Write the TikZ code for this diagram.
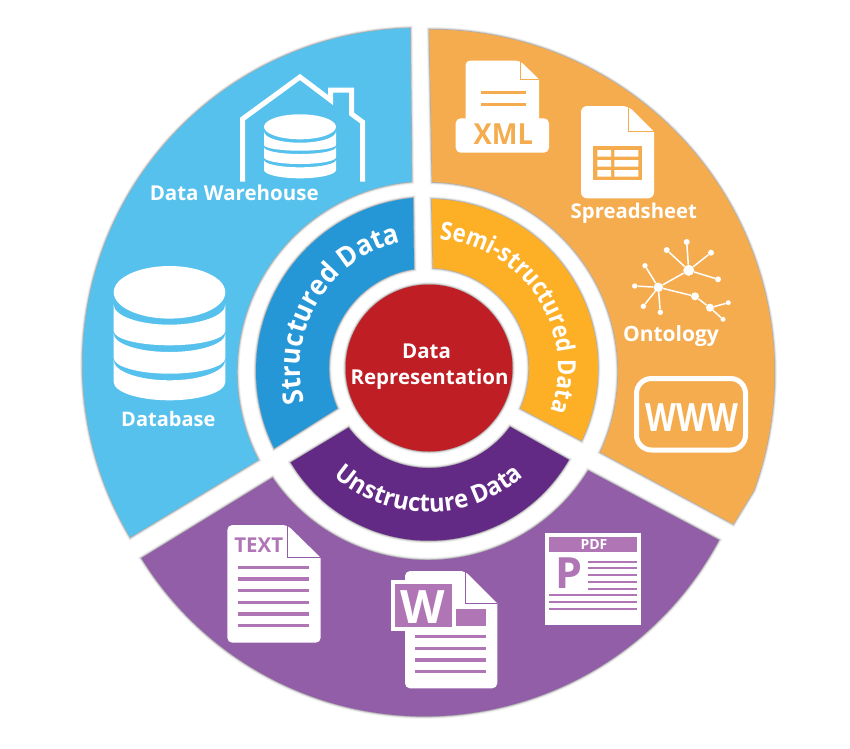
\documentclass[tikz,border=0pt]{standalone}
\usepackage{fontspec}
\usepackage{graphicx}
\setmainfont{Open Sans}
\newfontfamily\stA[FakeStretch=.93]{Open Sans}
\newfontfamily\stB[FakeStretch=.88]{Open Sans}
\newfontfamily\stC[FakeStretch=.95]{Open Sans}
\usetikzlibrary{decorations.text}
\definecolor{blueA}{HTML}{55C1EC}
\definecolor{orangeA}{HTML}{F5AC4E}
\definecolor{purpleA}{HTML}{925EA8}
\definecolor{blueB}{HTML}{2597D7}
\definecolor{orangeB}{HTML}{FDAF26}
\definecolor{purpleB}{HTML}{632A85}
\definecolor{redC}{HTML}{BE1E24}
\definecolor{purpleL}{HTML}{B075B5}
\tikzset{
  seg/.style={preaction={draw=black,draw opacity=.05,line width=5pt},preaction={draw=black,draw opacity=.10,line width=3.2pt},preaction={draw=black,draw opacity=.20,line width=1.4pt},fill=#1},
  lbl/.style={inner sep=0pt,anchor=base,text=white,font=\fontsize{#1}{#1}\selectfont\bfseries},
  iconfill/.style={fill=white,draw=none},
  thinbar/.style={draw=#1,line width=3.2pt},
  dot/.style={circle,fill=white,inner sep=0pt,minimum size=#1},
  link/.style={draw=white,line width=1.5pt}
}
\newcommand{\curveA}{\stA\fontsize{28}{28}\selectfont\bfseries\color{white}}
\newcommand{\curveB}{\stB\fontsize{25}{25}\selectfont\bfseries\color{white}}
\newcommand{\curveC}{\stC\fontsize{25}{25}\selectfont\bfseries\color{white}}
\begin{document}
\begin{tikzpicture}[x=1pt,y=1pt,yscale=-1]
\useasboundingbox (0,0) rectangle (850,748);
\fill[white] (0,0) rectangle (850,748);

% outer ring
\path[seg=blueA] ([shift={(419,364.5)}]268.5:336.5) arc[start angle=268.5,end angle=149.1,radius=336.5]
  -- ([shift={(428,372)}]152.6:191) arc[start angle=152.6,end angle=265.1,radius=191] -- cycle;
\path[seg=orangeA] ([shift={(431,373)}]269.7:343.5) arc[start angle=269.7,end angle=380,radius=343.5]
  -- (733.3,524) -- ([shift={(428,372)}]25:190) arc[start angle=25,end angle=-88.7,radius=190] -- cycle;
\path[seg=purpleA] ([shift={(425,383)}]28.1:333.3) arc[start angle=28.1,end angle=148.3,radius=333.3]
  -- ([shift={(428,372)}]145.8:188) arc[start angle=145.8,end angle=31.6,radius=188] -- cycle;

% inner ring
\path[seg=blueB] ([shift={(430,371)}]264.4:174) arc[start angle=264.4,end angle=153.6,radius=174]
  -- ([shift={(429,368)}]156.2:100) arc[start angle=156.2,end angle=261.4,radius=100] -- cycle;
\path[seg=orangeB] ([shift={(429,368)}]270.9:169) arc[start angle=270.9,end angle=385.5,radius=169]
  -- ([shift={(429,368)}]23.9:100) arc[start angle=23.9,end angle=-87.6,radius=100] -- cycle;
\path[seg=purpleB] ([shift={(429,379.3)}]29.9:161.4) arc[start angle=29.9,end angle=149,radius=161.4]
  -- ([shift={(429,368)}]143.5:100) arc[start angle=143.5,end angle=35.9,radius=100] -- cycle;
\path[seg=redC] (429,368) circle[radius=83.5];

% curved labels
\begin{scope}[yscale=-1,shift={(429,-368)}]
\path[decorate,decoration={text along path,text align=center,text={|\curveA|Structured Data}}]
  (-141:129) arc[start angle=-141,end angle=-281,radius=129];
\path[decorate,decoration={text along path,text align=center,text={|\curveB|Semi-structured Data}}]
  (-257:129) arc[start angle=-257,end angle=-397,radius=129];
\path[decorate,decoration={text along path,text align=center,text={|\curveC|Unstructure Data}}]
  (-160:144) arc[start angle=-160,end angle=-20,radius=144];
\end{scope}

\node[lbl=20.5] (dataA) at (426.5,358.3) {Data};
\node[lbl=20.5] (repr) at (429.5,384) {Representation};

% warehouse
\draw[white,line width=5pt,miter limit=10] (242.5,181.7) -- (242.5,119) -- (300,77) -- (330.5,100) -- (330.5,90) -- (351.7,90) -- (351.7,114) -- (362.5,122) -- (362.5,181.7);
\fill[white] (264,131.7) -- (264,145) arc[start angle=180,end angle=0,x radius=36,y radius=5.7] -- (336,131.7) arc[start angle=0,end angle=180,x radius=36,y radius=11] -- cycle;
\fill[white] (264,147.3) -- (264,157.3) arc[start angle=180,end angle=0,x radius=36,y radius=6.7] -- (336,147.3) arc[start angle=0,end angle=180,x radius=36,y radius=6.7] -- cycle;
\fill[white] (264,160) -- (264,170) arc[start angle=180,end angle=0,x radius=36,y radius=8.3] -- (336,160) arc[start angle=0,end angle=180,x radius=36,y radius=7.3] -- cycle;
\fill[white] (300,126.8) ellipse[x radius=36,y radius=12.5];
\node[lbl=20.5] (dw) at (234.2,200) {Data Warehouse};

% database
\fill[white] (113.7,304.7) -- (113.7,331) arc[start angle=180,end angle=0,x radius=55.8,y radius=14.3] -- (225.3,304.7) arc[start angle=0,end angle=180,x radius=55.8,y radius=20] -- cycle;
\fill[white] (113.7,333.7) -- (113.7,358) arc[start angle=180,end angle=0,x radius=55.8,y radius=15.7] -- (225.3,333.7) arc[start angle=0,end angle=180,x radius=55.8,y radius=18.3] -- cycle;
\fill[white] (113.7,360.3) -- (113.7,382) arc[start angle=180,end angle=0,x radius=55.8,y radius=18.3] -- (225.3,360.3) arc[start angle=0,end angle=180,x radius=55.8,y radius=20] -- cycle;
\fill[white] (169.5,292.3) ellipse[x radius=55.8,y radius=26.3];
\node[lbl=20] (db) at (168.3,426.7) {Database};

% XML
\path[iconfill,rounded corners=4pt] (465.7,125) -- (465.7,60.7) -- (520,60.7) [sharp corners] -- (539,79.3) [rounded corners=4pt] -- (539,125) -- cycle;
\path[iconfill,rounded corners=5pt] (455.7,118.3) rectangle (549,152.7);
\draw[orangeA,line width=.8pt] (520,60.7) -- (520,79.3) -- (539,79.3);
\draw[thinbar=orangeA] (481,92.3) -- (526,92.3);
\draw[thinbar=orangeA] (481,104.7) -- (526,104.7);
\node[lbl=29,text=orangeA] (xml) at (503.3,144.7) {\scalebox{.94}[1]{XML}};

% spreadsheet
\path[iconfill,rounded corners=6pt] (581,198.3) -- (581,106) -- (628.3,106) [sharp corners] -- (654,131.7) [rounded corners=6pt] -- (654,198.3) -- cycle;
\draw[orangeA,line width=.8pt] (628.3,106) -- (628.3,131.7) -- (654,131.7);
\fill[orangeA] (593.3,146.3) rectangle (641.7,180);
\fill[white] (597.3,150) rectangle (611,156.7) (614.3,150) rectangle (638.3,156.7)
             (597.3,160) rectangle (611,166.7) (614.3,160) rectangle (638.3,166.7)
             (597.3,170) rectangle (611,176.7) (614.3,170) rectangle (638.3,176.7);
\node[lbl=20.3] (ss) at (633.8,218) {Spreadsheet};

% ontology
\node[dot=11pt] (n1) at (688.7,270.3) {};
\node[dot=9.5pt] (n2) at (658.3,287.3) {};
\node[dot=8pt] (n3) at (695,296.3) {};
\node[dot=8pt] (n4) at (710,307.7) {};
\node[dot=6pt] (a1) at (686.7,242) {};
\node[dot=6pt] (a2) at (666.7,250) {};
\node[dot=6pt] (a3) at (711,252.7) {};
\node[dot=6pt] (a4) at (718,279.3) {};
\node[dot=5.4pt] (b1) at (645,265.7) {};
\node[dot=5.4pt] (b2) at (634.7,286) {};
\node[dot=5.4pt] (b3) at (643.3,306.3) {};
\node[dot=5.4pt] (b4) at (660.3,312.3) {};
\node[dot=5pt] (c1) at (728.3,302.7) {};
\node[dot=5pt] (c2) at (723,319.3) {};
\draw[link] (n1)--(n2) (n2)--(n3) (n3)--(n4) (n1)--(a1) (n1)--(a2) (n1)--(a3) (n1)--(a4)
  (n2)--(b1) (n2)--(b2) (n2)--(b3) (n2)--(b4) (n4)--(c1) (n4)--(c2);
\node[lbl=21] (ont) at (671,341.7) {Ontology};

% WWW
\draw[white,line width=5pt,rounded corners=15pt] (636.5,378.5) rectangle (745.5,450);
\node[lbl=39] (www) at (692,431.7) {\scalebox{.82}[1]{WWW}};

% TEXT
\path[iconfill,rounded corners=5pt] (227.3,642.7) -- (227.3,525) -- (287.3,525) [sharp corners] -- (320.7,557.7) [rounded corners=5pt] -- (320.7,642.7) -- cycle;
\draw[purpleA,line width=.8pt] (287.3,525) -- (287.3,557.7) -- (320.7,557.7);
\node[lbl=20.5,text=purpleL] (txt) at (258.7,552.3) {TEXT};
\foreach \y in {567.3,579,590.3,602.3,614,625.7} \draw[thinbar=purpleL] (237.7,\y) -- (309,\y);

% Word
\path[iconfill,rounded corners=5pt] (405,688.3) -- (405,571) -- (465,571) [sharp corners] -- (497.3,603.5) [rounded corners=5pt] -- (497.3,688.3) -- cycle;
\draw[purpleA,line width=.8pt] (465,571) -- (465,603.5) -- (497.3,603.5);
\fill[white] (390.7,580) rectangle (455,630.7);
\fill[purpleL] (395,584) rectangle (451.7,626.7);
\node[lbl=46] (wd) at (423,623.3) {W};
\fill[purpleL] (456,609.3) rectangle (485.7,626);
\foreach \y in {636.3,648.3,660,671.7} \draw[thinbar=purpleL] (415,\y) -- (485.7,\y);

% PDF
\fill[white] (545,532.7) rectangle (640.7,625.3);
\fill[purpleL] (549.3,536.7) rectangle (636.7,552.3);
\node[lbl=14] (pdf) at (594,549.5) {PDF};
\node[lbl=43,text=purpleL] (pp) at (568.5,588.3) {P};
\foreach \y in {561.7,568,575,582,588.7} \draw[draw=purpleL,line width=2.3pt] (588.3,\y) -- (636.7,\y);
\foreach \y in {594.7,602.3,609.3} \draw[draw=purpleL,line width=2.3pt] (549.3,\y) -- (636.7,\y);
\end{tikzpicture}
\end{document}
